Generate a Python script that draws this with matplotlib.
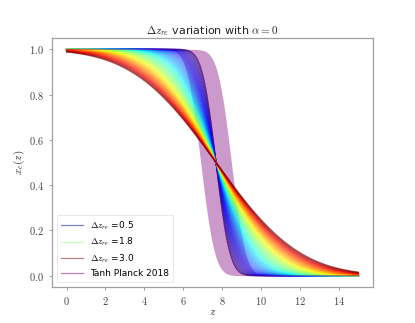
import matplotlib
matplotlib.use("Agg")
import matplotlib.pyplot as plt
import numpy as np
from math import erf
from matplotlib.ticker import FuncFormatter

# Planck 2018 reionization redshift and its 1-sigma error
z_re = 7.68
z_re_err = 0.79
dz_planck = 0.5

# family of widths, from 0.5 (blue) to 3.0 (red)
dz_min = 0.5
dz_max = 3.0
n_curves = 60

z = np.linspace(0, 15, 400)


# ionized fraction, smooth step centred on zr
def x_e(z, zr, dz):
    arg = (z - zr) / (1.6 * dz)
    return 0.5 * (1.0 - np.array([erf(a) for a in arg]))


plt.rcParams['mathtext.fontset'] = 'cm'
plt.rcParams['font.family'] = 'DejaVu Sans'

fig = plt.figure(figsize=(4.15, 3.23), dpi=100)
ax = fig.add_axes([0.1253, 0.1115, 0.7735, 0.7709])

cmap = plt.get_cmap('jet')
dz_values = np.linspace(dz_min, dz_max, n_curves)
mid = n_curves // 2
for i, dz in enumerate(dz_values):
    label = None
    if i == 0 or i == mid or i == n_curves - 1:
        label = r'$\Delta z_{re}$ =%.1f' % dz
    ax.plot(z, x_e(z, z_re, dz), color=cmap(i / (n_curves - 1)),
            lw=0.9, alpha=0.5, label=label)

# Planck 2018 band, drawn over the family
lo = x_e(z, z_re - z_re_err, dz_planck)
hi = x_e(z, z_re + z_re_err, dz_planck)
ax.plot(z, x_e(z, z_re, dz_planck), color='purple', lw=0.9, alpha=0.5,
        label='Tanh Planck 2018')
ax.fill_between(z, lo, hi, color='purple', alpha=0.4, lw=0)

ax.set_xlim(-0.75, 15.75)
ax.set_ylim(-0.05, 1.05)
ax.set_xticks([0, 2, 4, 6, 8, 10, 12, 14])
ax.set_yticks([0.0, 0.2, 0.4, 0.6, 0.8, 1.0])
ax.xaxis.set_major_formatter(FuncFormatter(lambda v, p: '$%d$' % v))
ax.yaxis.set_major_formatter(FuncFormatter(lambda v, p: '$%.1f$' % v))

for s in ax.spines.values():
    s.set_color('#a0a0a0')
    s.set_linewidth(0.9)
ax.tick_params(colors='#a0a0a0', labelcolor='#444444', labelsize=7.5,
               length=2.5, width=0.7)

ax.set_xlabel('$z$', fontsize=8, color='#333333', labelpad=0)
ax.set_ylabel('$x_e(z)$', fontsize=8, color='#333333', labelpad=1)
ax.set_title(r'$\Delta z_{re}$ variation with $\alpha=0$', fontsize=8,
             color='#222222', pad=3)

leg = ax.legend(loc='lower left', fontsize=6.5, frameon=True,
                handlelength=2.4, handletextpad=0.8, borderpad=0.5,
                labelspacing=0.45)
leg.get_frame().set_edgecolor('#dddddd')
leg.get_frame().set_linewidth(0.6)

fig.savefig('out.png', dpi=100)
